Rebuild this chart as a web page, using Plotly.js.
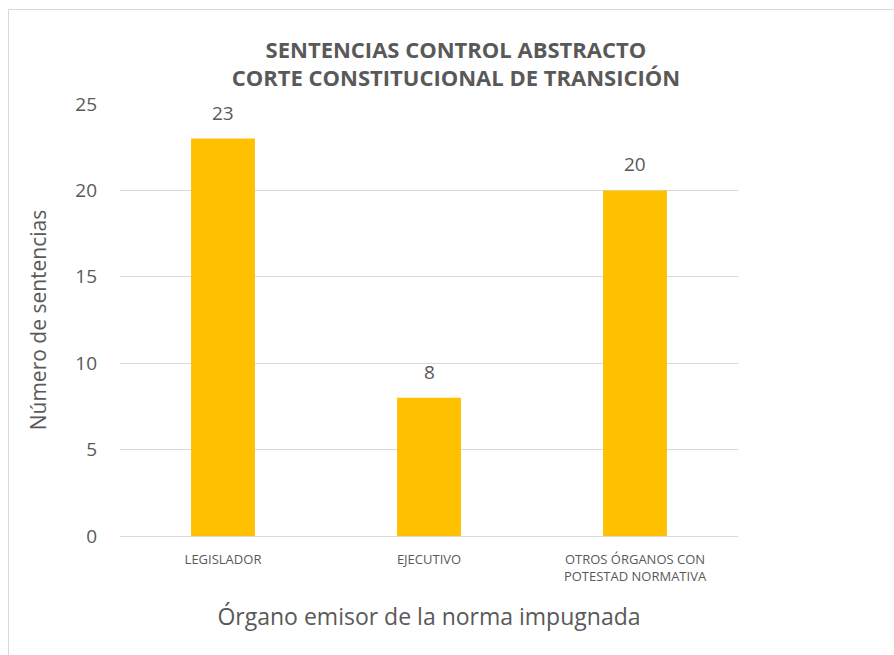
<!DOCTYPE html>
<html><head><meta charset="utf-8">
<script src="https://cdn.plot.ly/plotly-3.0.1.min.js"></script>
<style>
html,body{margin:0;padding:0;background:#fff;}
#wrap{position:relative;width:894px;height:655px;overflow:hidden;}
#chart{width:894px;height:655px;}
#frame{position:absolute;left:8px;top:9px;width:900px;height:700px;border:1px solid #d9d9d9;pointer-events:none;}
</style></head>
<body><div id="wrap"><div id="chart"></div><div id="frame"></div></div>
<script>
const categories = ["LEGISLADOR", "EJECUTIVO", "OTROS ÓRGANOS CON<br>POTESTAD NORMATIVA"];
const values = [23, 8, 20];
const yTicks = [0, 5, 10, 15, 20, 25];

const fontFam = "Open Sans, Noto Sans, sans-serif";
const gray = "#595959";

const labelAnnotations = categories.map((c, i) => ({
  x: c, y: values[i], xref: "x", yref: "y",
  text: String(values[i]), showarrow: false,
  yanchor: "bottom", yshift: 11,
  font: {family: fontFam, size: 19, color: gray}
}));

Plotly.newPlot("chart", [{
  type: "bar",
  x: categories,
  y: values,
  marker: {color: "#FFC000"},
  textposition: "none",
  hoverinfo: "none"
}], {
  width: 894, height: 655,
  margin: {l: 120, r: 156, t: 104, b: 119},
  paper_bgcolor: "#fff", plot_bgcolor: "#fff",
  bargap: 0.69,
  showlegend: false,
  annotations: labelAnnotations,
  title: {
    text: "<b>SENTENCIAS CONTROL ABSTRACTO<br>CORTE CONSTITUCIONAL DE TRANSICIÓN</b>",
    font: {family: fontFam, size: 22, color: gray},
    xref: "container", x: 0.51, xanchor: "center",
    yref: "container", y: 0.912, yanchor: "top"
  },
  xaxis: {
    type: "category",
    tickfont: {family: fontFam, size: 13, color: gray},
    showline: true, linecolor: "#d9d9d9", linewidth: 1,
    ticks: "",
    ticklabelstandoff: 11,
    title: {text: "Órgano emisor de la norma impugnada", font: {family: fontFam, size: 23, color: gray}, standoff: 25}
  },
  yaxis: {
    range: [0, 25],
    tickvals: yTicks,
    tickfont: {family: fontFam, size: 19, color: gray},
    showgrid: true, gridcolor: "#d9d9d9", gridwidth: 1,
    zeroline: false, showline: false, ticks: "",
    ticklabelstandoff: 22,
    title: {text: "Número de sentencias", font: {family: fontFam, size: 21, color: gray}, standoff: 22}
  }
}, {displayModeBar: false, staticPlot: true});
</script></body></html>
